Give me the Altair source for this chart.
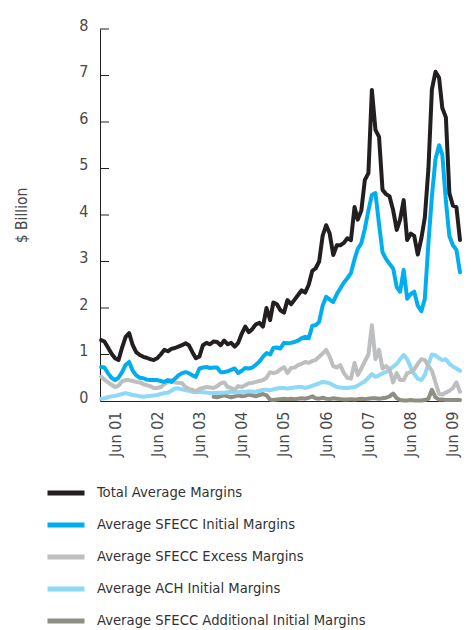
import altair as alt
import pandas as pd

FONT = "DejaVu Sans Condensed, sans-serif"

# Monthly observations, Feb 2001 .. Aug 2009
months = pd.date_range("2001-02-01", "2009-08-01", freq="MS")

total = [1.31, 1.28, 1.15, 1.02, 0.92, 0.88, 1.15, 1.38, 1.46, 1.20, 1.05,
         0.99, 0.95, 0.93, 0.90, 0.88, 0.92, 1.00, 1.10, 1.07, 1.12, 1.14, 1.17,
         1.20, 1.24, 1.20, 1.05, 0.92, 0.96, 1.20, 1.25, 1.22, 1.28, 1.27, 1.20,
         1.30, 1.22, 1.25, 1.17, 1.25, 1.45, 1.60, 1.48, 1.55, 1.65, 1.68, 1.60,
         2.00, 1.74, 2.12, 2.08, 1.95, 1.90, 2.17, 2.08, 2.18, 2.28, 2.38, 2.33,
         2.50, 2.80, 2.85, 3.00, 3.55, 3.78, 3.60, 3.14, 3.35, 3.35, 3.40, 3.50,
         3.46, 4.17, 3.90, 4.10, 4.75, 4.90, 6.69, 5.83, 5.68, 4.54, 4.45, 4.40,
         4.10, 3.68, 3.90, 4.32, 3.46, 3.60, 3.55, 3.15, 3.50, 3.95, 5.00, 6.70,
         7.08, 6.95, 6.30, 6.10, 4.47, 4.20, 4.17, 3.46]

sfecc_initial = [0.73, 0.72, 0.60, 0.50, 0.45, 0.50, 0.62, 0.78, 0.84, 0.65, 0.55,
                 0.50, 0.49, 0.46, 0.45, 0.45, 0.45, 0.43, 0.41, 0.45, 0.41, 0.48, 0.55,
                 0.60, 0.62, 0.60, 0.55, 0.52, 0.70, 0.72, 0.73, 0.71, 0.72, 0.72, 0.62,
                 0.62, 0.64, 0.67, 0.70, 0.60, 0.65, 0.71, 0.70, 0.72, 0.78, 0.85, 0.95,
                 1.03, 1.00, 1.14, 1.15, 1.13, 1.25, 1.24, 1.25, 1.27, 1.30, 1.35, 1.38,
                 1.35, 1.62, 1.63, 1.70, 2.05, 2.24, 2.18, 2.13, 2.30, 2.42, 2.55, 2.64,
                 2.75, 3.05, 3.27, 3.40, 3.70, 4.10, 4.43, 4.47, 3.80, 3.20, 3.05, 2.95,
                 2.85, 2.45, 2.35, 2.82, 2.20, 2.30, 2.35, 2.05, 1.93, 2.20, 3.40, 4.40,
                 5.20, 5.50, 5.30, 4.30, 3.55, 3.35, 3.25, 2.77]

sfecc_excess = [0.52, 0.46, 0.40, 0.35, 0.30, 0.33, 0.42, 0.45, 0.45, 0.43, 0.41,
                0.40, 0.36, 0.34, 0.32, 0.28, 0.28, 0.30, 0.36, 0.41, 0.45, 0.40, 0.39,
                0.38, 0.30, 0.26, 0.24, 0.21, 0.26, 0.28, 0.30, 0.29, 0.28, 0.32, 0.38,
                0.40, 0.30, 0.28, 0.24, 0.32, 0.30, 0.34, 0.38, 0.39, 0.41, 0.43, 0.45,
                0.50, 0.62, 0.60, 0.62, 0.68, 0.73, 0.60, 0.71, 0.72, 0.77, 0.80, 0.84,
                0.82, 0.86, 0.88, 0.95, 1.02, 1.10, 0.95, 0.75, 0.72, 0.77, 0.60, 0.50,
                0.48, 0.82, 0.56, 0.70, 0.85, 1.00, 1.63, 0.90, 1.10, 0.70, 0.75, 0.68,
                0.40, 0.60, 0.45, 0.45, 0.60, 0.62, 0.68, 0.80, 0.90, 0.88, 0.75, 0.65,
                0.40, 0.15, 0.14, 0.18, 0.22, 0.28, 0.40, 0.20]

ach_initial = [0.05, 0.06, 0.08, 0.10, 0.11, 0.13, 0.15, 0.17, 0.15, 0.13, 0.12,
               0.10, 0.09, 0.10, 0.11, 0.12, 0.13, 0.15, 0.17, 0.18, 0.22, 0.27, 0.27,
               0.25, 0.23, 0.22, 0.20, 0.19, 0.20, 0.19, 0.18, 0.17, 0.17, 0.17, 0.18,
               0.18, 0.19, 0.20, 0.18, 0.19, 0.20, 0.20, 0.21, 0.20, 0.20, 0.22, 0.24,
               0.24, 0.23, 0.25, 0.27, 0.28, 0.28, 0.27, 0.28, 0.29, 0.30, 0.30, 0.28,
               0.30, 0.33, 0.35, 0.38, 0.41, 0.40, 0.38, 0.34, 0.30, 0.29, 0.28, 0.28,
               0.29, 0.30, 0.33, 0.38, 0.42, 0.50, 0.58, 0.52, 0.55, 0.60, 0.62, 0.68,
               0.74, 0.80, 0.90, 0.99, 0.90, 0.72, 0.58, 0.48, 0.45, 0.56, 0.80, 1.00,
               0.98, 0.92, 0.88, 0.90, 0.80, 0.74, 0.70, 0.65]

sfecc_additional = [None] * 32 + [
    0.09, 0.08, 0.10,
    0.12, 0.10, 0.08, 0.10, 0.12, 0.10, 0.11, 0.14, 0.12, 0.10, 0.13, 0.15,
    0.12, 0.03, 0.02, 0.03, 0.04, 0.05, 0.04, 0.05, 0.04, 0.05, 0.06, 0.05,
    0.07, 0.10, 0.06, 0.05, 0.07, 0.05, 0.04, 0.06, 0.05, 0.04, 0.03, 0.03,
    0.04, 0.03, 0.04, 0.05, 0.04, 0.05, 0.06, 0.06, 0.05, 0.06, 0.07, 0.10,
    0.16, 0.06, 0.02, 0.01, 0.01, 0.02, 0.01, 0.01, 0.01, 0.02, 0.05, 0.24,
    0.08, 0.03, 0.03, 0.02, 0.02, 0.02, 0.02, 0.02]

series_names = ["Total Average Margins",
                "Average SFECC Initial Margins",
                "Average SFECC Excess Margins",
                "Average ACH Initial Margins",
                "Average SFECC Additional Initial Margins"]
series_colors = ["#231f20", "#00aeef", "#bcbec0", "#8ed8f8", "#8f8e82"]
series_values = [total, sfecc_initial, sfecc_excess, ach_initial, sfecc_additional]

y_ticks = [0, 1, 2, 3, 4, 5, 6, 7, 8]
x_tick_years = [2001, 2002, 2003, 2004, 2005, 2006, 2007, 2008, 2009]

rows = []
# bottom-most series first so Total is drawn on top
for name, vals in reversed(list(zip(series_names, series_values))):
    for d, v in zip(months, vals):
        if v is not None:
            rows.append({"date": d, "series": name, "value": v})
df = pd.DataFrame(rows)

tick_df = pd.DataFrame({"value": y_ticks[1:]})

x_scale = alt.Scale(domain=[alt.DateTime(year=2001, month=1, date=22),
                            alt.DateTime(year=2009, month=8, date=1)], nice=False)
y_scale = alt.Scale(domain=[0, 8], nice=False, zero=True)

lines = alt.Chart(df).mark_line(strokeWidth=4, strokeJoin="round", strokeCap="round").encode(
    x=alt.X("date:T", scale=x_scale,
            axis=alt.Axis(values=[alt.DateTime(year=y, month=6, date=1) for y in x_tick_years],
                          format="%b %y", labelAngle=270, ticks=False, grid=False, title=None,
                          labelPadding=10, labelFontSize=16, labelFont=FONT,
                          labelColor="#4a4a4a", domainColor="#231f20", domainWidth=1,
                          labelBaseline="middle", labelAlign="right")),
    y=alt.Y("value:Q", scale=y_scale,
            axis=alt.Axis(values=y_ticks, ticks=False, grid=False, title="$ Billion",
                          labelPadding=12, labelFontSize=16, labelFont=FONT,
                          labelColor="#4a4a4a", domainColor="#231f20", domainWidth=1,
                          labelBaseline="alphabetic", labelOffset=1,
                          titleFont=FONT, titleFontSize=15.5, titleFontWeight="normal",
                          titleColor="#4a4a4a", titleAngle=270, titleX=-79, titleY=186,
                          titleAlign="center", titleBaseline="middle")),
    color=alt.Color("series:N",
                    scale=alt.Scale(domain=series_names, range=series_colors),
                    legend=alt.Legend(orient="none", legendX=-55, legendY=454, title=None,
                                      direction="vertical", symbolType="stroke",
                                      symbolSize=1369, symbolStrokeWidth=5,
                                      labelFont=FONT, labelFontSize=14.7, labelColor="#333333",
                                      labelOffset=10, rowPadding=12, clipHeight=20,
                                      labelLimit=400, padding=0)),
)

ticks = alt.Chart(tick_df).mark_rule(color="#231f20", strokeWidth=1).encode(
    y=alt.Y("value:Q", scale=y_scale, title="$ Billion"),
    x=alt.value(0),
    x2=alt.value(9),
)

chart = alt.layer(lines, ticks).properties(
    width=360, height=372,
    padding={"left": 92, "top": 21, "right": 3, "bottom": 229},
    autosize=alt.AutoSizeParams(type="none"),
).configure_view(stroke=None)

chart.save("out.html", embed_options={"renderer": "svg", "actions": False})
